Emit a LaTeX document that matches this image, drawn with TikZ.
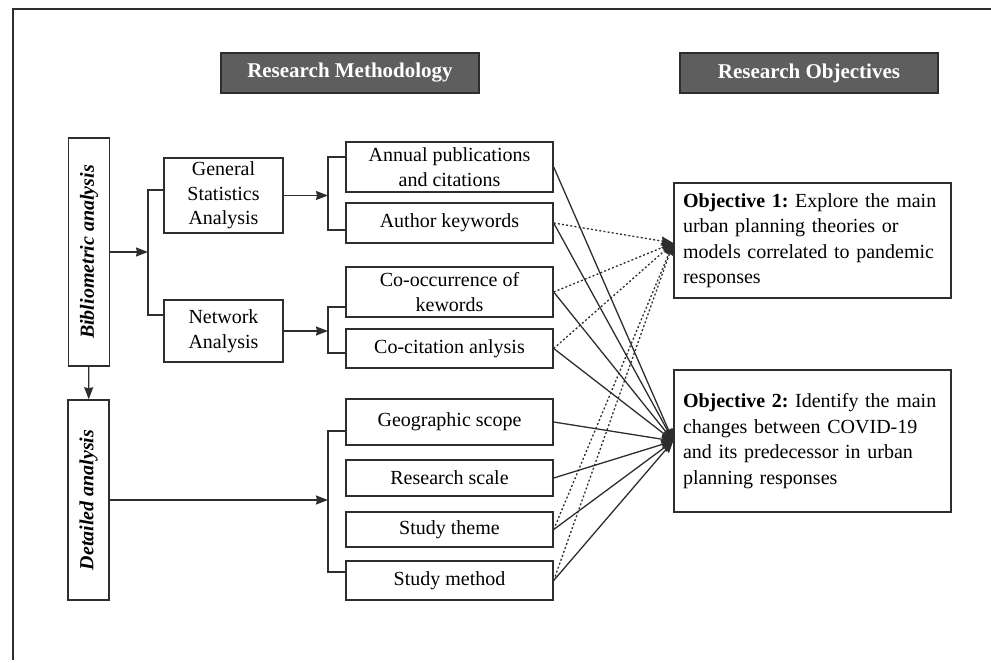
\documentclass[tikz,border=0pt]{standalone}
\usepackage{fontspec}
\setmainfont{Liberation Serif}
\usepackage{tikz}
\usetikzlibrary{arrows.meta,positioning,calc}

\definecolor{linegray}{HTML}{2E2E2E}
\definecolor{headgray}{HTML}{5E5E5E}

\begin{document}
\frenchspacing
\begin{tikzpicture}[
  x=1pt, y=-1pt,
  >={Stealth[length=12pt,width=9pt,inset=1pt]},
  line width=1.4pt, draw=linegray,
  every node/.style={inner sep=0pt,font=\fontsize{20}{24.5}\selectfont},
  box/.style={draw=linegray,line width=1.4pt,align=center,minimum width=207pt},
  headbox/.style={draw=linegray,fill=headgray,text=white,minimum width=258pt,
    minimum height=40pt,font=\fontsize{21}{24}\selectfont\bfseries},
  sidebox/.style={draw=linegray,line width=1.4pt,minimum width=41pt},
  sidetext/.style={rotate=90,font=\fontsize{20}{24}\selectfont\bfseries\itshape},
  objbox/.style={draw=linegray,line width=1.4pt,minimum width=277pt,
    text width=259pt,align=left,font=\fontsize{20}{25.5}\selectfont},
  dots/.style={dash pattern=on 2pt off 2.2pt}
  ]

  \useasboundingbox (0,0) rectangle (991,663);
  \draw[line width=1.5pt] (13,660) -- (13,9) -- (991,9);

  \node[headbox] (h_1) at (350,73)   {Research Methodology};
  \node[headbox] (h_2) at (809,73)   {Research Objectives};

  \node[sidebox,minimum height=228pt] (ba) at (89,252)   {};
  \node[sidetext]                     at (ba)            {Bibliometric analysis};
  \node[sidebox,minimum height=200pt] (da) at (88.5,500) {};
  \node[sidetext]                     at (da)            {Detailed analysis};

  \node[box,minimum width=119pt,minimum height=75pt] (gs) at (223.5,195.5) {General\\Statistics\\Analysis};
  \node[box,minimum width=119pt,minimum height=62pt] (na) at (223.5,331)   {Network\\Analysis};

  \node[box,minimum height=50pt] (s_1) at (449.5,167)   {Annual publications\\and citations};
  \node[box,minimum height=40pt] (s_2) at (449.5,223)   {Author keywords};
  \node[box,minimum height=50pt] (s_3) at (449.5,292)   {Co-occurrence of\\kewords};
  \node[box,minimum height=39pt] (s_4) at (449.5,348.5) {Co-citation anlysis};
  \node[box,minimum height=46pt] (s_5) at (449.5,422)   {Geographic scope};
  \node[box,minimum height=36pt] (s_6) at (449.5,478)   {Research scale};
  \node[box,minimum height=35pt] (s_7) at (449.5,529.5) {Study theme};
  \node[box,minimum height=39pt] (s_8) at (449.5,580.5) {Study method};

  \node[objbox,minimum height=115pt] (o_1) at (812.5,240.5)
    {\textbf{Objective 1:} Explore the main\\urban planning theories or\\models correlated to pandemic\\responses};
  \node[objbox,minimum height=142pt] (o_2) at (812.5,441)
    {\textbf{Objective 2:} Identify the main\\changes between COVID-19\\and its predecessor in urban\\planning responses};

  \coordinate (j_1) at (148,252);
  \coordinate (k_1) at (328,195.5);
  \coordinate (k_2) at (328,331);
  \coordinate (k_3) at (328,500);

  \draw[->] (ba) -- (j_1);
  \draw[->] (ba) -- (da);
  \draw ([yshift=5.5pt]gs.west) -| (j_1) |- ([yshift=16pt]na.west);

  \draw[->] (gs) -- (k_1);
  \draw ([yshift=10pt]s_1.west) -| (k_1) |- ([yshift=-7pt]s_2.west);
  \draw[->] (na) -- (k_2);
  \draw ([yshift=-15pt]s_3.west) -| (k_2) |- ([yshift=-4.5pt]s_4.west);
  \draw[->] (da) -- (k_3);
  \draw ([yshift=-9pt]s_5.west) -| (k_3) |- ([yshift=8.5pt]s_8.west);

  \path[every edge/.append style={->,line width=1.3pt,draw=linegray}]
    (s_1.east) edge (o_2.west)
    (s_2.east) edge (o_2.west)
    (s_3.east) edge (o_2.west)
    (s_4.east) edge (o_2.west)
    (s_5.east) edge (o_2.west)
    (s_6.east) edge (o_2.west)
    (s_7.east) edge (o_2.west)
    (s_8.east) edge (o_2.west)
    ;

  \path[every edge/.append style={->,dots,line width=1.3pt,draw=linegray}]
    (s_2.east) edge ([yshift=-2.5pt]o_1.west)
    (s_3.east) edge ([yshift=-2.5pt]o_1.west)
    (s_4.east) edge ([yshift=-2.5pt]o_1.west)
    (s_7.east) edge ([yshift=-2.5pt]o_1.west)
    (s_8.east) edge ([yshift=-2.5pt]o_1.west)
    ;
\end{tikzpicture}
\end{document}
